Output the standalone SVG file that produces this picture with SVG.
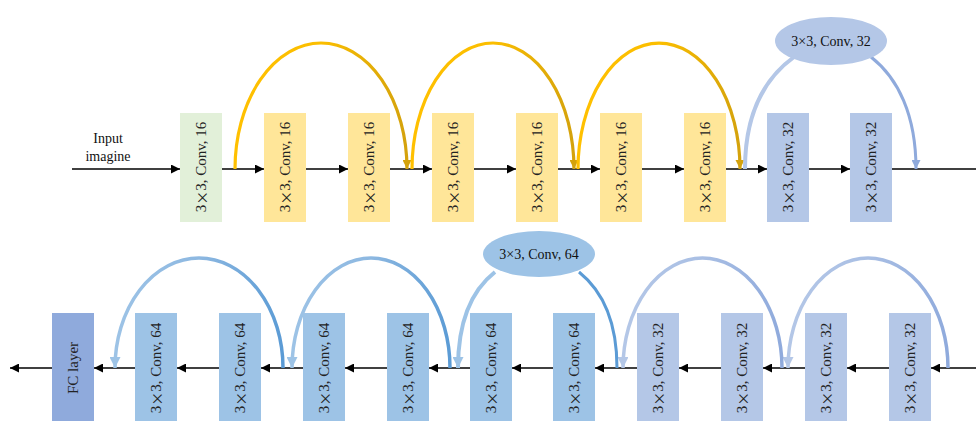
<svg xmlns="http://www.w3.org/2000/svg" width="976" height="422" viewBox="0 0 976 422">
<style>
text{font-family:"Liberation Serif","DejaVu Serif","Times New Roman",serif}
.t{font-size:15px;fill:#222;text-anchor:middle;dominant-baseline:central}
.lbl{font-size:14px;fill:#111;text-anchor:middle}
.x{font-family:"Noto Sans CJK SC","Liberation Serif",serif;font-size:14px}
.ln{stroke:#000;stroke-width:1.6;fill:none}
.g{fill:#E2F0D9}.y{fill:#FFE699}.b{fill:#B4C7E7}.s{fill:#9DC3E6}.f{fill:#8FAADC}
</style>
<defs>
<marker id="ab" viewBox="0 0 10 10" refX="10" refY="5" markerWidth="11" markerHeight="9" markerUnits="userSpaceOnUse" orient="auto"><path d="M0,0L10,5L0,10z" fill="#000"/></marker>
<marker id="ay" viewBox="0 0 10 10" refX="10" refY="5" markerWidth="12" markerHeight="9" markerUnits="userSpaceOnUse" orient="auto"><path d="M0,0L10,5L0,10z" fill="#D4A20C"/></marker>
<marker id="al" viewBox="0 0 10 10" refX="10" refY="5" markerWidth="12" markerHeight="9" markerUnits="userSpaceOnUse" orient="auto"><path d="M0,0L10,5L0,10z" fill="#8FAADC"/></marker>
<marker id="al2" viewBox="0 0 10 10" refX="10" refY="5" markerWidth="14" markerHeight="11" markerUnits="userSpaceOnUse" orient="auto"><path d="M0,0L10,5L0,10z" fill="#B4C7E7"/></marker>
<marker id="as2" viewBox="0 0 10 10" refX="10" refY="5" markerWidth="14" markerHeight="11" markerUnits="userSpaceOnUse" orient="auto"><path d="M0,0L10,5L0,10z" fill="#9DC3E6"/></marker>
<linearGradient id="gy" x1="0" y1="0" x2="1" y2="0"><stop offset="0" stop-color="#FFC000"/><stop offset="0.5" stop-color="#FBBE00"/><stop offset="1" stop-color="#D4A20C"/></linearGradient>
<linearGradient id="gl" x1="0" y1="0" x2="1" y2="0"><stop offset="0" stop-color="#B4C7E7"/><stop offset="0.5" stop-color="#A9BFE4"/><stop offset="1" stop-color="#8FAADC"/></linearGradient>
<linearGradient id="gs" x1="0" y1="0" x2="1" y2="0"><stop offset="0" stop-color="#9DC3E6"/><stop offset="0.5" stop-color="#8DB8E1"/><stop offset="1" stop-color="#5B9BD5"/></linearGradient>
</defs>

<text class="lbl" x="108" y="143">Input</text>
<text class="lbl" x="108" y="161">imagine</text>

<g id="connectors">
<path class="ln" d="M72,169H180" marker-end="url(#ab)"/>
<path class="ln" d="M222,169H264" marker-end="url(#ab)"/>
<path class="ln" d="M306,169H348" marker-end="url(#ab)"/>
<path class="ln" d="M390,169H432" marker-end="url(#ab)"/>
<path class="ln" d="M474,169H516" marker-end="url(#ab)"/>
<path class="ln" d="M558,169H600" marker-end="url(#ab)"/>
<path class="ln" d="M642,169H684" marker-end="url(#ab)"/>
<path class="ln" d="M726,169H767" marker-end="url(#ab)"/>
<path class="ln" d="M809,169H850" marker-end="url(#ab)"/>
<path class="ln" d="M892,169H976"/>

<path class="ln" d="M976,368H931" marker-end="url(#ab)"/>
<path class="ln" d="M889,368H847" marker-end="url(#ab)"/>
<path class="ln" d="M805,368H763" marker-end="url(#ab)"/>
<path class="ln" d="M721,368H679" marker-end="url(#ab)"/>
<path class="ln" d="M637,368H595" marker-end="url(#ab)"/>
<path class="ln" d="M553,368H512" marker-end="url(#ab)"/>
<path class="ln" d="M470,368H429" marker-end="url(#ab)"/>
<path class="ln" d="M387,368H345" marker-end="url(#ab)"/>
<path class="ln" d="M303,368H261" marker-end="url(#ab)"/>
<path class="ln" d="M219,368H177" marker-end="url(#ab)"/>
<path class="ln" d="M135,368H94" marker-end="url(#ab)"/>
<path class="ln" d="M52,368H10" marker-end="url(#ab)"/>

<path d="M235,169A86,126 0 0 1 407,169" fill="none" stroke="url(#gy)" stroke-width="3.2" marker-end="url(#ay)"/>
<path d="M412,169A81,126 0 0 1 574,169" fill="none" stroke="url(#gy)" stroke-width="3.2" marker-end="url(#ay)"/>
<path d="M578,169A81,126 0 0 1 740,169" fill="none" stroke="url(#gy)" stroke-width="3.2" marker-end="url(#ay)"/>

<path d="M745,169C745,112 765,78 794,57" fill="none" stroke="#B4C7E7" stroke-width="4"/>
<path d="M871,57C898,78 916,115 916,169" fill="none" stroke="#8FAADC" stroke-width="3" marker-end="url(#al)"/>

<path d="M948,368A80,110 0 0 0 788,368" fill="none" stroke="url(#gl)" stroke-width="3.5" marker-end="url(#al2)"/>
<path d="M782,368A79.5,110 0 0 0 623,368" fill="none" stroke="url(#gl)" stroke-width="3.5" marker-end="url(#al2)"/>
<path d="M617,368C617,322 604,292 579,272" fill="none" stroke="#5B9BD5" stroke-width="3"/>
<path d="M495,272C472,290 458,320 458,368" fill="none" stroke="#9DC3E6" stroke-width="4" marker-end="url(#as2)"/>
<path d="M450,368A79,110 0 0 0 292,368" fill="none" stroke="url(#gs)" stroke-width="3.5" marker-end="url(#as2)"/>
<path d="M283,368A84,110 0 0 0 115,368" fill="none" stroke="url(#gs)" stroke-width="3.5" marker-end="url(#as2)"/>
</g>

<g id="e32"><ellipse cx="831" cy="41" rx="56" ry="24" class="b"/><text class="lbl" x="831" y="46">3×3, Conv, 32</text></g>
<g id="e64"><ellipse cx="539" cy="254" rx="56" ry="23" class="s"/><text class="lbl" x="539" y="259">3×3, Conv, 64</text></g>

<g id="t1"><rect x="180" y="113" width="42" height="109" class="g"/><text class="t" transform="translate(201,167) rotate(-90)">3<tspan class="x">×</tspan>3, Conv, 16</text></g>
<g id="t2"><rect x="264" y="113" width="42" height="109" class="y"/><text class="t" transform="translate(285,167) rotate(-90)">3<tspan class="x">×</tspan>3, Conv, 16</text></g>
<g id="t3"><rect x="348" y="113" width="42" height="109" class="y"/><text class="t" transform="translate(369,167) rotate(-90)">3<tspan class="x">×</tspan>3, Conv, 16</text></g>
<g id="t4"><rect x="432" y="113" width="42" height="109" class="y"/><text class="t" transform="translate(453,167) rotate(-90)">3<tspan class="x">×</tspan>3, Conv, 16</text></g>
<g id="t5"><rect x="516" y="113" width="42" height="109" class="y"/><text class="t" transform="translate(537,167) rotate(-90)">3<tspan class="x">×</tspan>3, Conv, 16</text></g>
<g id="t6"><rect x="600" y="113" width="42" height="109" class="y"/><text class="t" transform="translate(621,167) rotate(-90)">3<tspan class="x">×</tspan>3, Conv, 16</text></g>
<g id="t7"><rect x="684" y="113" width="42" height="109" class="y"/><text class="t" transform="translate(705,167) rotate(-90)">3<tspan class="x">×</tspan>3, Conv, 16</text></g>
<g id="t8"><rect x="767" y="113" width="42" height="109" class="b"/><text class="t" transform="translate(788,167) rotate(-90)">3<tspan class="x">×</tspan>3, Conv, 32</text></g>
<g id="t9"><rect x="850" y="113" width="42" height="109" class="b"/><text class="t" transform="translate(871,167) rotate(-90)">3<tspan class="x">×</tspan>3, Conv, 32</text></g>

<g id="b1"><rect x="889" y="313" width="42" height="108" class="b"/><text class="t" transform="translate(910,368) rotate(-90)">3<tspan class="x">×</tspan>3, Conv, 32</text></g>
<g id="b2"><rect x="805" y="313" width="42" height="108" class="b"/><text class="t" transform="translate(826,368) rotate(-90)">3<tspan class="x">×</tspan>3, Conv, 32</text></g>
<g id="b3"><rect x="721" y="313" width="42" height="108" class="b"/><text class="t" transform="translate(742,368) rotate(-90)">3<tspan class="x">×</tspan>3, Conv, 32</text></g>
<g id="b4"><rect x="637" y="313" width="42" height="108" class="b"/><text class="t" transform="translate(658,368) rotate(-90)">3<tspan class="x">×</tspan>3, Conv, 32</text></g>
<g id="b5"><rect x="553" y="313" width="42" height="108" class="s"/><text class="t" transform="translate(574,368) rotate(-90)">3<tspan class="x">×</tspan>3, Conv, 64</text></g>
<g id="b6"><rect x="470" y="313" width="42" height="108" class="s"/><text class="t" transform="translate(491,368) rotate(-90)">3<tspan class="x">×</tspan>3, Conv, 64</text></g>
<g id="b7"><rect x="387" y="313" width="42" height="108" class="s"/><text class="t" transform="translate(408,368) rotate(-90)">3<tspan class="x">×</tspan>3, Conv, 64</text></g>
<g id="b8"><rect x="303" y="313" width="42" height="108" class="s"/><text class="t" transform="translate(324,368) rotate(-90)">3<tspan class="x">×</tspan>3, Conv, 64</text></g>
<g id="b9"><rect x="219" y="313" width="42" height="108" class="s"/><text class="t" transform="translate(240,368) rotate(-90)">3<tspan class="x">×</tspan>3, Conv, 64</text></g>
<g id="b10"><rect x="135" y="313" width="42" height="108" class="s"/><text class="t" transform="translate(156,368) rotate(-90)">3<tspan class="x">×</tspan>3, Conv, 64</text></g>
<g id="fc"><rect x="52" y="313" width="42" height="108" class="f"/><text class="t" transform="translate(73,368) rotate(-90)">FC layer</text></g>
</svg>
